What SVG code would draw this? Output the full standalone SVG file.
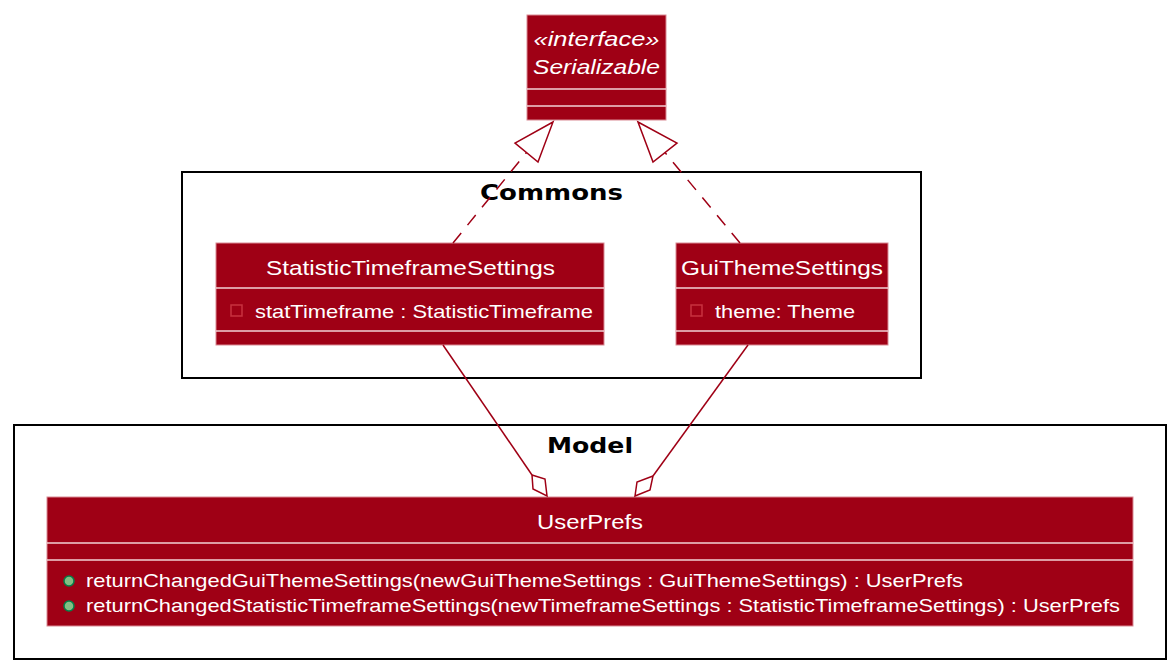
<svg xmlns="http://www.w3.org/2000/svg" width="1176" height="668" viewBox="0 0 1176 668">
<style>
.pkg{fill:none;stroke:#000;stroke-width:2}
.pt{font-family:"DejaVu Sans",sans-serif;font-weight:bold;font-size:22px;fill:#000;text-anchor:middle}
.box{fill:#9F0015;stroke:#D98A94;stroke-width:1}
.sep{stroke:#F2D0D4;stroke-width:1.5}
.nm{font-family:"Liberation Sans",Arial,sans-serif;font-size:21px;fill:#fff;text-anchor:middle}
.at{font-family:"Liberation Sans",Arial,sans-serif;font-size:19px;fill:#fff}
.it{font-style:italic}
.ico{fill:none;stroke:#C8323F;stroke-width:1.5}
.pub{fill:#84BE84;stroke:#038048;stroke-width:1.5}
.dash{fill:none;stroke:#9F0015;stroke-width:1.5;stroke-dasharray:13,10}
.ln{fill:none;stroke:#9F0015;stroke-width:1.5}
.head{fill:#fff;stroke:#9F0015;stroke-width:1.5}
</style>
<g id="pkg-commons">
<rect class="pkg" x="182" y="172" width="739" height="206"/>
<text class="pt" x="551.5" y="200" textLength="143" lengthAdjust="spacingAndGlyphs">Commons</text>
</g>
<g id="pkg-model">
<rect class="pkg" x="14" y="425" width="1152" height="234"/>
<text class="pt" x="590" y="453" textLength="86" lengthAdjust="spacingAndGlyphs">Model</text>
</g>
<g id="serializable">
<rect class="box" x="527" y="15" width="139" height="105"/>
<text class="nm it" x="596.5" y="46" textLength="126" lengthAdjust="spacingAndGlyphs">«interface»</text>
<text class="nm it" x="596.5" y="74" textLength="127" lengthAdjust="spacingAndGlyphs">Serializable</text>
<line class="sep" x1="527" y1="89" x2="666" y2="89"/>
<line class="sep" x1="527" y1="106" x2="666" y2="106"/>
</g>
<g id="statistic-timeframe-settings">
<rect class="box" x="216" y="243" width="388" height="102"/>
<text class="nm" x="410.5" y="275" textLength="289" lengthAdjust="spacingAndGlyphs">StatisticTimeframeSettings</text>
<line class="sep" x1="216" y1="288" x2="604" y2="288"/>
<rect class="ico" x="231" y="305" width="11" height="11"/>
<text class="at" x="255" y="318" textLength="338" lengthAdjust="spacingAndGlyphs">statTimeframe : StatisticTimeframe</text>
<line class="sep" x1="216" y1="331" x2="604" y2="331"/>
</g>
<g id="gui-theme-settings">
<rect class="box" x="676" y="243" width="212" height="102"/>
<text class="nm" x="782" y="275" textLength="202" lengthAdjust="spacingAndGlyphs">GuiThemeSettings</text>
<line class="sep" x1="676" y1="288" x2="888" y2="288"/>
<rect class="ico" x="691" y="305" width="11" height="11"/>
<text class="at" x="715" y="318" textLength="140" lengthAdjust="spacingAndGlyphs">theme: Theme</text>
<line class="sep" x1="676" y1="331" x2="888" y2="331"/>
</g>
<g id="user-prefs">
<rect class="box" x="47" y="497" width="1086" height="129"/>
<text class="nm" x="590" y="529" textLength="106" lengthAdjust="spacingAndGlyphs">UserPrefs</text>
<line class="sep" x1="47" y1="543" x2="1133" y2="543"/>
<line class="sep" x1="47" y1="560" x2="1133" y2="560"/>
<circle class="pub" cx="69" cy="581" r="5"/>
<text class="at" x="86" y="587" textLength="877" lengthAdjust="spacingAndGlyphs">returnChangedGuiThemeSettings(newGuiThemeSettings : GuiThemeSettings) : UserPrefs</text>
<circle class="pub" cx="69" cy="606" r="5"/>
<text class="at" x="86" y="612" textLength="1034" lengthAdjust="spacingAndGlyphs">returnChangedStatisticTimeframeSettings(newTimeframeSettings : StatisticTimeframeSettings) : UserPrefs</text>
</g>
<g id="connectors">
<path class="dash" d="M453,243 L526.5,152.5"/>
<polygon class="head" points="553,122 515,143 538,162"/>
<path class="dash" d="M740,243 L665,152.5"/>
<polygon class="head" points="638,122 677,143 653,162"/>
<path class="ln" d="M443,345 L532,475"/>
<polygon class="head" points="532,475 545,479 547,496 533,489"/>
<path class="ln" d="M748,345 L653,476"/>
<polygon class="head" points="653,476 637,482 635,496 650,490"/>
</g>
</svg>
